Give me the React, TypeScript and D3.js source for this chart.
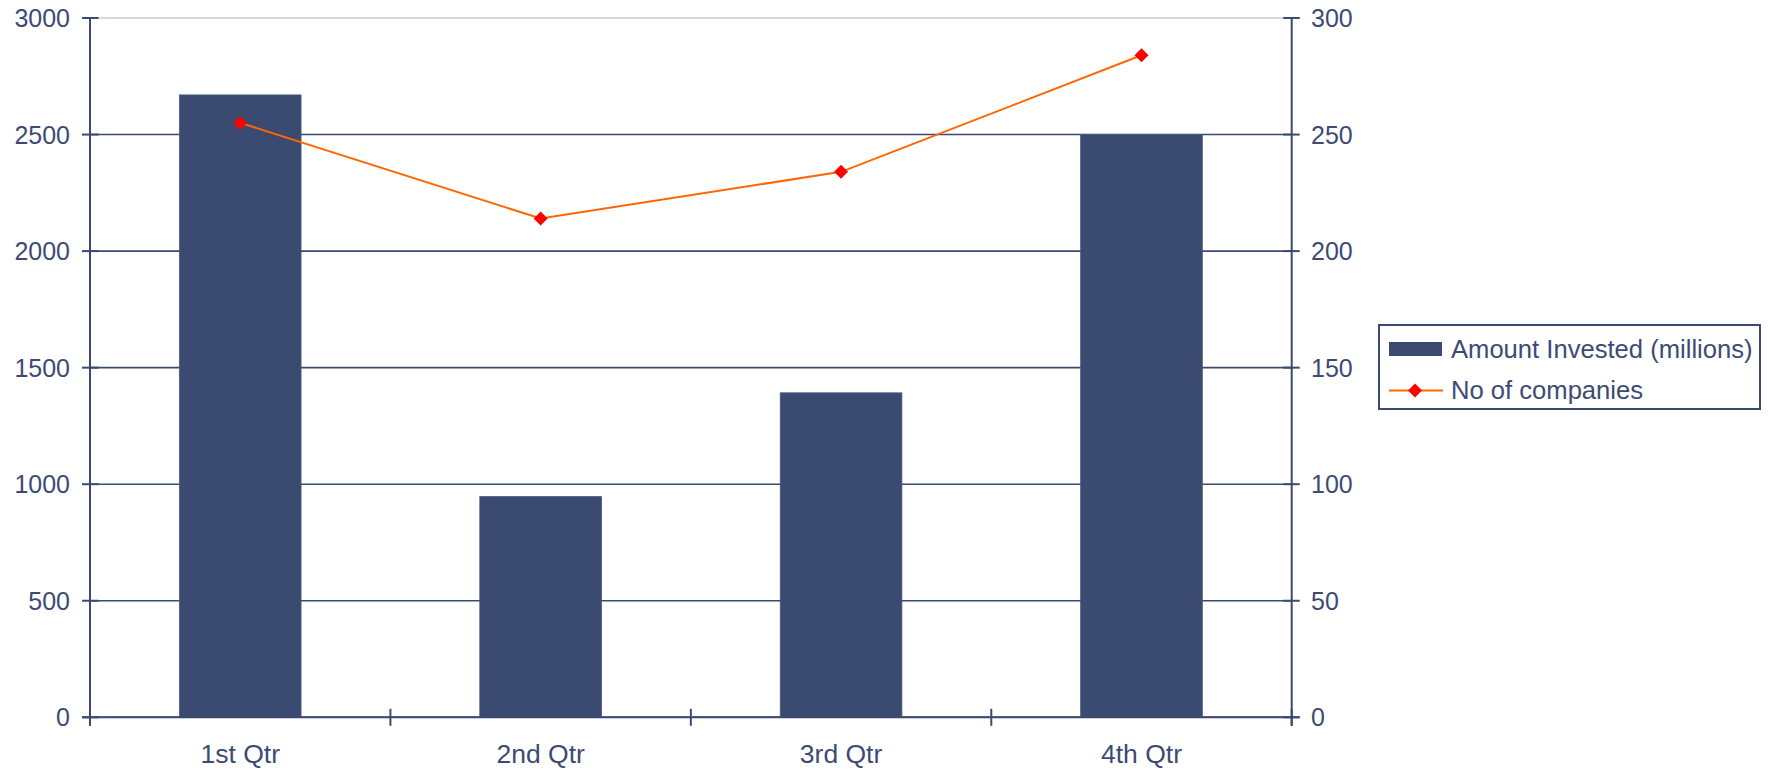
import React from "react";
import * as d3 from "d3";

// Quarterly investment data
const categories = ["1st Qtr", "2nd Qtr", "3rd Qtr", "4th Qtr"];
const amountInvested = [2670, 947, 1392, 2500];
const companyCounts = [255, 214, 234, 284];
const leftTicks = [0, 500, 1000, 1500, 2000, 2500, 3000];
const rightTicks = [0, 50, 100, 150, 200, 250, 300];
const seriesNames = ["Amount Invested (millions)", "No of companies"];

const W = 1769;
const H = 771;
const plot = { left: 90, right: 1291.7, top: 18, bottom: 717.3 };

const NAVY = "#3b4a71";
const TEXT = "#3d4b74";
const ORANGE = "#ff6600";
const RED = "#ff0000";
const FONT = "'Liberation Sans', Arial, Helvetica, sans-serif";
const FS = 25;

export default function App() {
  const x = d3
    .scaleBand<string>()
    .domain(categories)
    .range([plot.left, plot.right])
    .paddingInner(0.595)
    .paddingOuter(0.2975);
  const step = x.step();
  const yL = d3.scaleLinear().domain([0, 3000]).range([plot.bottom, plot.top]);
  const yR = d3.scaleLinear().domain([0, 300]).range([plot.bottom, plot.top]);

  const pts = categories.map((c, i) => [x(c)! + x.bandwidth() / 2, yR(companyCounts[i])] as [number, number]);
  const linePath = d3.line()(pts) ?? "";

  const diamond = (cx: number, cy: number, r: number) =>
    `M${cx},${cy - r}L${cx + r},${cy}L${cx},${cy + r}L${cx - r},${cy}Z`;

  const boundaries = d3.range(categories.length + 1).map((i) => plot.left + i * step);

  return (
    <svg
      width={W}
      height={H}
      style={{ position: "absolute", left: 0, top: 0, display: "block", background: "#fff" }}
      fontFamily={FONT}
    >
      {/* horizontal gridlines */}
      {leftTicks.map((t) => (
        <line
          key={"g" + t}
          x1={plot.left}
          x2={plot.right}
          y1={yL(t)}
          y2={yL(t)}
          stroke={t === 3000 ? "#c9ccd8" : NAVY}
          strokeWidth={t === 3000 ? 1.5 : 1.6}
        />
      ))}

      {/* bars */}
      {categories.map((c, i) => (
        <rect
          key={"b" + c}
          x={x(c)}
          y={yL(amountInvested[i])}
          width={x.bandwidth()}
          height={yL(0) - yL(amountInvested[i])}
          fill={NAVY}
          stroke="#4d5a80"
          strokeWidth={0.8}
        />
      ))}

      {/* left axis */}
      <line x1={plot.left} x2={plot.left} y1={plot.top} y2={plot.bottom + 8.5} stroke={NAVY} strokeWidth={2} />
      {leftTicks.map((t) => (
        <g key={"lt" + t}>
          <line x1={plot.left - 8} x2={plot.left + 8.5} y1={yL(t)} y2={yL(t)} stroke={NAVY} strokeWidth={2} />
          <text x={70} y={yL(t)} dy="0.36em" textAnchor="end" fontSize={FS} fill={TEXT}>
            {t}
          </text>
        </g>
      ))}

      {/* right axis */}
      <line x1={plot.right} x2={plot.right} y1={plot.top} y2={plot.bottom + 8.5} stroke={NAVY} strokeWidth={2} />
      {rightTicks.map((t) => (
        <g key={"rt" + t}>
          <line x1={plot.right - 8.5} x2={plot.right + 8} y1={yR(t)} y2={yR(t)} stroke={NAVY} strokeWidth={2} />
          <text x={1311} y={yR(t)} dy="0.36em" textAnchor="start" fontSize={FS} fill={TEXT}>
            {t}
          </text>
        </g>
      ))}

      {/* category axis */}
      <line x1={plot.left - 8} x2={plot.right + 8} y1={plot.bottom} y2={plot.bottom} stroke={NAVY} strokeWidth={2} />
      {boundaries.map((bx, i) => (
        <line key={"xt" + i} x1={bx} x2={bx} y1={plot.bottom - 8.5} y2={plot.bottom + 8.5} stroke={NAVY} strokeWidth={2} />
      ))}
      {categories.map((c) => (
        <text
          key={"xl" + c}
          x={x(c)! + x.bandwidth() / 2}
          y={763}
          textAnchor="middle"
          fontSize={26.5}
          fill={TEXT}
        >
          {c}
        </text>
      ))}

      {/* company count line */}
      <path d={linePath} fill="none" stroke={ORANGE} strokeWidth={2} />
      {pts.map(([px, py], i) => (
        <path key={"m" + i} d={diamond(px, py, 7)} fill={RED} />
      ))}

      {/* legend */}
      <g>
        <rect x={1379} y={325} width={381} height={84} fill="#fff" stroke={NAVY} strokeWidth={2} />
        <rect x={1389} y={342} width={53} height={14} fill={NAVY} />
        <text x={1451} y={358} fontSize={25.6} fill={TEXT}>
          {seriesNames[0]}
        </text>
        <line x1={1389} x2={1443} y1={390.5} y2={390.5} stroke={ORANGE} strokeWidth={2} />
        <path d={diamond(1415, 390.5, 7)} fill={RED} />
        <text x={1451} y={399} fontSize={25.6} fill={TEXT}>
          {seriesNames[1]}
        </text>
      </g>
    </svg>
  );
}
